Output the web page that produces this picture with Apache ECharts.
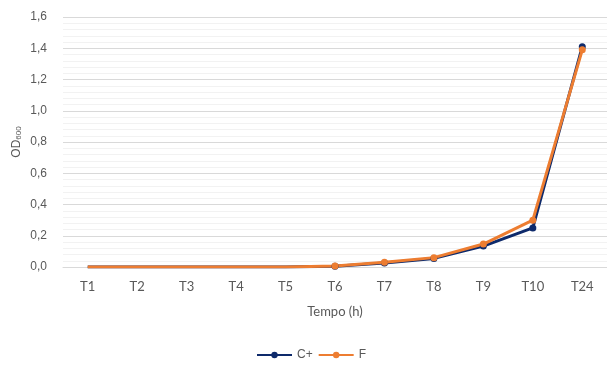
<!DOCTYPE html>
<html>
<head>
<meta charset="utf-8">
<script src="https://cdn.jsdelivr.net/npm/echarts@6/dist/echarts.min.js"></script>
<style>
  html, body { margin: 0; padding: 0; background: #fff; }
  #chart { width: 607px; height: 365px; }
</style>
</head>
<body>
<div id="chart"></div>
<script>
// categorias (tempo)
var categorias = ['T1', 'T2', 'T3', 'T4', 'T5', 'T6', 'T7', 'T8', 'T9', 'T10', 'T24'];
// OD600
var serie_Cpos = [0, 0, 0, 0, 0, 0.005, 0.025, 0.055, 0.134, 0.25, 1.41];
var serie_F = [0, 0, 0, 0, 0, 0.006, 0.03, 0.06, 0.147, 0.30, 1.39];
// pontos sem marcador
var semMarcador = 5;

function pontos(arr) {
  var out = [];
  for (var i = 0; i < arr.length; i++) {
    if (i < semMarcador) {
      out.push({ value: arr[i], symbol: 'none' });
    } else {
      out.push(arr[i]);
    }
  }
  return out;
}

var myChart = echarts.init(document.getElementById('chart'));
var option = {
  animation: false,
  color: ['#0E2A6B', '#ED7D31'],
  grid: {
    left: 63,
    right: 0,
    top: 17,
    bottom: 98
  },
  legend: {
    data: ['C+', 'F'],
    left: 251,
    top: 344,
    itemWidth: 35,
    itemHeight: 8,
    itemGap: 5,
    textStyle: {
      color: '#595959',
      fontFamily: 'Liberation Sans',
      fontSize: 12
    }
  },
  xAxis: {
    type: 'category',
    data: categorias,
    name: 'Tempo (h)',
    nameLocation: 'middle',
    nameGap: 38,
    nameTextStyle: {
      color: '#595959',
      fontFamily: 'Lato',
      fontSize: 13
    },
    axisLine: { lineStyle: { color: '#D9D9D9', width: 1 } },
    axisTick: { show: false },
    axisLabel: {
      color: '#595959',
      fontFamily: 'Lato',
      fontSize: 13,
      margin: 13
    }
  },
  yAxis: {
    type: 'value',
    min: 0,
    max: 1.6,
    interval: 0.2,
    name: '{a|OD}{b|600}',
    nameLocation: 'middle',
    nameRotate: 90,
    nameGap: 40,
    nameMoveOverlap: false,
    nameTextStyle: {
      color: '#595959',
      rich: {
        a: { fontFamily: 'Liberation Sans', fontSize: 12, color: '#595959' },
        b: { fontFamily: 'Liberation Sans', fontSize: 8, color: '#595959', padding: [5, 0, 0, 0] }
      }
    },
    axisLine: { show: false },
    axisTick: { show: false },
    axisLabel: {
      color: '#595959',
      fontFamily: 'Liberation Sans',
      fontSize: 12,
      margin: 16,
      formatter: function (v) {
        return v.toFixed(1).replace('.', ',');
      }
    },
    splitLine: { lineStyle: { color: '#D9D9D9', width: 1 } },
    minorTick: { show: false, splitNumber: 5 },
    minorSplitLine: { show: true, lineStyle: { color: '#F2F2F2', width: 1 } }
  },
  series: [
    {
      name: 'C+',
      type: 'line',
      symbol: 'circle',
      symbolSize: 7,
      lineStyle: { width: 3 },
      data: pontos(serie_Cpos)
    },
    {
      name: 'F',
      type: 'line',
      symbol: 'circle',
      symbolSize: 7,
      lineStyle: { width: 3 },
      data: pontos(serie_F)
    }
  ]
};
myChart.setOption(option);
</script>
</body>
</html>
